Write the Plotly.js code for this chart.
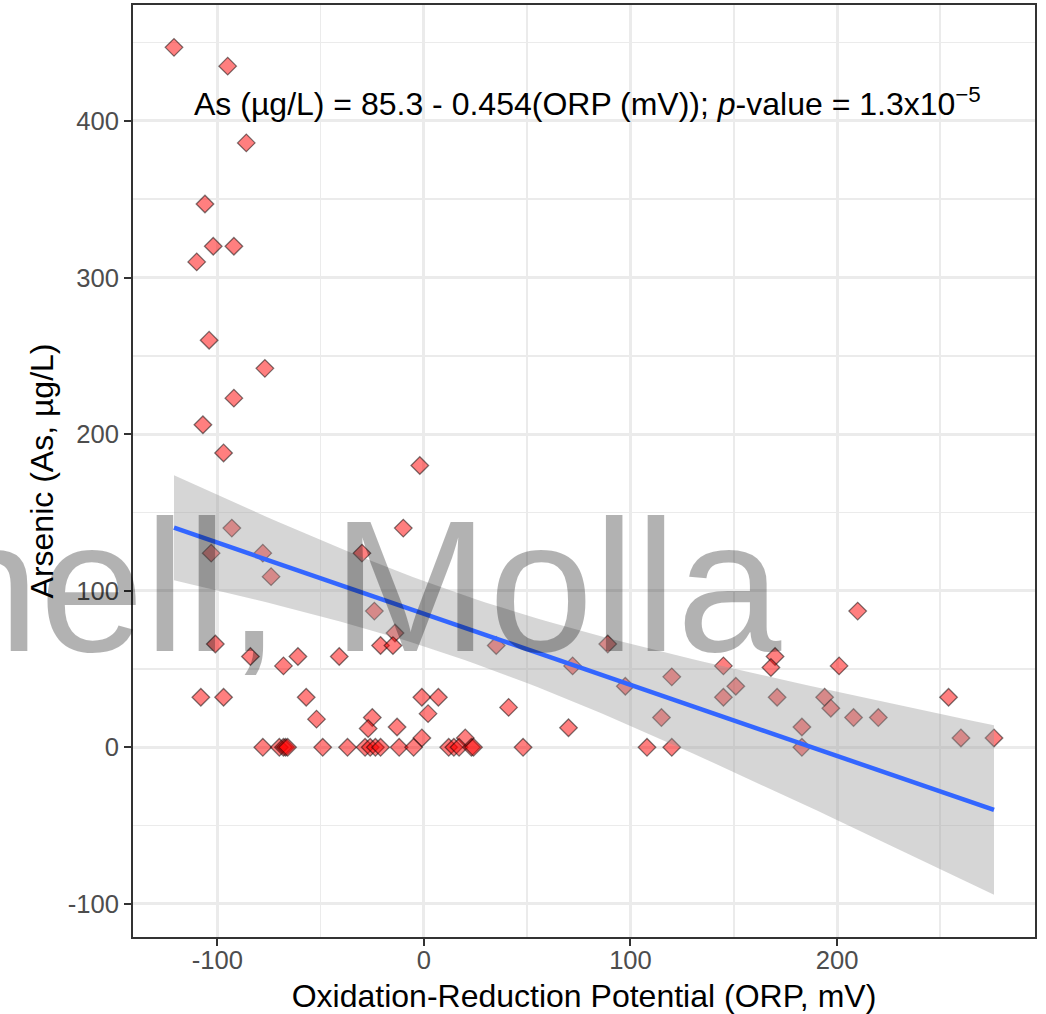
<!DOCTYPE html>
<html>
<head>
<meta charset="utf-8">
<script src="https://cdn.plot.ly/plotly-3.0.1.min.js"></script>
<style>
  html, body { margin: 0; padding: 0; background: #ffffff; }
  #chart { width: 1046px; height: 1014px; }
</style>
</head>
<body>
<div id="chart"></div>
<script>
// ---- Data ----
const orpValues = [
  -121, -95, -86, -106, -102, -92, -110, -104, -77, -92,
  -107, -97, -2, -93, -10, -103, -78, -30, -74, -24,
  -14, -21, -15, -101, -84, -68, -61, -41, -108, -97,
  -57, -52, -25, -27, -13, -1, 7, 2, -1, 20,
  41, 35, 89, 72, 97.5, 120, 115, 70, 210, 170,
  168, 145, 201, 151, 145, 171, 194, 197, 208, 220,
  254, 260, 276, 183,
  -78, -70, -68, -67, -66, -49, -37, -28.5, -26, -23.5,
  -21, -12, -5, 12, 14.5, 17, 23, 24, 48, 108,
  120, 183
];
const arsenicValues = [
  447, 435, 386, 347, 320, 320, 310, 260, 242, 223,
  206, 188, 180, 140, 140, 124, 124, 124, 109, 87,
  73, 65, 65, 66, 58, 52, 58, 58, 32, 32,
  32, 18, 19, 12, 13, 32, 32, 21.5, 6, 6,
  25.5, 65, 66, 52, 39, 45, 19, 12.5, 87, 58,
  51, 52, 52, 39, 32, 32, 32, 25, 19, 19,
  32, 6, 6, 13,
  0, 0, 0, 0, 0, 0, 0, 0, 0, 0,
  0, 0, 0, 0, 0, 0, 0, 0, 0, 0,
  0, 0
];
const xTickValues = [-100, 0, 100, 200];
const xTickLabels = ['-100', '0', '100', '200'];
const yTickValues = [-100, 0, 100, 200, 300, 400];
const yTickLabels = ['-100', '0', '100', '200', '300', '400'];
const fitIntercept = 85.3;   // from the chart's equation
const fitSlope = -0.454;     // from the chart's equation
const equationText = 'As (µg/L) = 85.3 - 0.454(ORP (mV)); <i>p</i>-value = 1.3x10<sup>−5</sup>';
const xTitleText = 'Oxidation-Reduction Potential (ORP, mV)';
const yTitleText = 'Arsenic (As, µg/L)';
const watermarkText = 'hell, Molla';

// ---- Linear fit confidence band (standard OLS formula) ----
const n = orpValues.length;
const xMean = orpValues.reduce((a, b) => a + b, 0) / n;
const sxx = orpValues.reduce((a, x) => a + (x - xMean) * (x - xMean), 0);
const ssr = orpValues.reduce((a, x, i) => {
  const r = arsenicValues[i] - (fitIntercept + fitSlope * x);
  return a + r * r;
}, 0);
const sigma = Math.sqrt(ssr / (n - 2));
const df = n - 2;
const z = 1.959964;
const tCrit = z + (z * z * z + z) / (4 * df) + (5 * Math.pow(z, 5) + 16 * z * z * z + 3 * z) / (96 * df * df);

const xMin = Math.min(...orpValues);
const xMax = Math.max(...orpValues);
const nSmooth = 80;
const smoothX = [], smoothY = [], upperY = [], lowerY = [];
for (let i = 0; i < nSmooth; i++) {
  const x = xMin + (xMax - xMin) * i / (nSmooth - 1);
  const yhat = fitIntercept + fitSlope * x;
  const se = sigma * Math.sqrt(1 / n + (x - xMean) * (x - xMean) / sxx);
  smoothX.push(x);
  smoothY.push(yhat);
  upperY.push(yhat + tCrit * se);
  lowerY.push(yhat - tCrit * se);
}

// ggplot-style 5% expansion
const xPad = (xMax - xMin) * 0.05;
const yLo = Math.min(...arsenicValues, ...lowerY);
const yHi = Math.max(...arsenicValues, ...upperY);
const yPad = (yHi - yLo) * 0.05;

const FONT = 'Arial, "Liberation Sans", Helvetica, sans-serif';

const traces = [
  {
    type: 'scatter', mode: 'markers',
    x: orpValues, y: arsenicValues,
    marker: {
      symbol: 'diamond', size: 13.5,
      color: 'rgba(255,0,0,0.5)',
      line: { color: 'rgba(0,0,0,0.5)', width: 1.3 }
    },
    hoverinfo: 'x+y', showlegend: false
  },
  {
    type: 'scatter', mode: 'lines',
    x: smoothX.concat(smoothX.slice().reverse()),
    y: upperY.concat(lowerY.slice().reverse()),
    fill: 'toself', fillcolor: 'rgba(153,153,153,0.4)',
    line: { width: 0, color: 'rgba(0,0,0,0)' },
    hoverinfo: 'skip', showlegend: false
  },
  {
    type: 'scatter', mode: 'lines',
    x: smoothX, y: smoothY,
    line: { color: '#3366FF', width: 4.5 },
    hoverinfo: 'skip', showlegend: false
  }
];

const axisCommon = {
  showline: true, mirror: true, linecolor: '#333333', linewidth: 2,
  ticks: 'outside', ticklen: 7, tickwidth: 2, tickcolor: '#333333',
  tickfont: { family: FONT, size: 25.6, color: '#4D4D4D' },
  showgrid: true, gridcolor: '#EBEBEB', gridwidth: 3,
  zeroline: false, automargin: false,
  tickmode: 'array'
};

const layout = {
  width: 1046, height: 1014,
  margin: { l: 133, r: 11, t: 5, b: 77 },
  paper_bgcolor: '#ffffff', plot_bgcolor: '#ffffff',
  font: { family: FONT, color: '#000000' },
  showlegend: false,
  xaxis: Object.assign({}, axisCommon, {
    range: [xMin - xPad, xMax + xPad],
    tickvals: xTickValues, ticktext: xTickLabels,
    ticklabelstandoff: -8,
    minor: { dtick: 50, tick0: 0, showgrid: true, gridcolor: '#EBEBEB', gridwidth: 1.6, ticks: '' },
    title: { text: xTitleText, font: { family: FONT, size: 32, color: '#000000' }, standoff: 14 }
  }),
  yaxis: Object.assign({}, axisCommon, {
    range: [yLo - yPad, yHi + yPad],
    tickvals: yTickValues, ticktext: yTickLabels,
    minor: { dtick: 50, tick0: 0, showgrid: true, gridcolor: '#EBEBEB', gridwidth: 1.6, ticks: '' },
    title: { text: yTitleText, font: { family: FONT, size: 32, color: '#000000' }, standoff: 4 }
  }),
  annotations: [
    {
      text: equationText, xref: 'x', yref: 'y', x: 79, y: 412,
      showarrow: false, xanchor: 'center', yanchor: 'middle',
      font: { family: FONT, size: 32, color: '#000000' }
    },
    {
      text: watermarkText, xref: 'paper', yref: 'paper', x: -0.2222, y: 0.3766,
      showarrow: false, xanchor: 'left', yanchor: 'middle',
      font: { family: FONT, size: 188, color: 'rgba(0,0,0,0.3)' }
    }
  ]
};

Plotly.newPlot('chart', traces, layout, { displayModeBar: false, staticPlot: true });
</script>
</body>
</html>
